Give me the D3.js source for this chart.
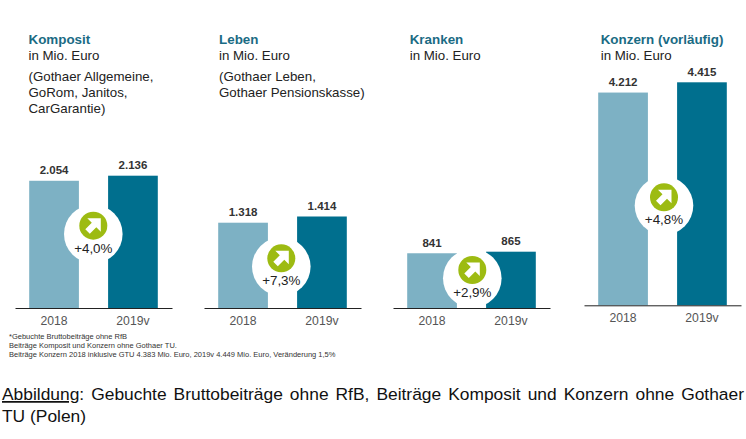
<!DOCTYPE html>
<html>
<head>
<meta charset="utf-8">
<script src="https://cdnjs.cloudflare.com/ajax/libs/d3/7.8.5/d3.min.js"></script>
<style>
html,body{margin:0;padding:0;background:#fff;}
svg{display:block;}
text{font-family:"Liberation Sans",Arial,sans-serif;}
</style>
</head>
<body>
<svg id="chart" width="746" height="439"></svg>
<script>
// data
const years = ['2018', '2019v'];
const segments = ['Komposit', 'Leben', 'Kranken', 'Konzern (vorläufig)'];
const values2018 = [2054, 1318, 841, 4212];
const values2019 = [2136, 1414, 865, 4415];
const valueLabels2018 = ['2.054', '1.318', '841', '4.212'];
const valueLabels2019 = ['2.136', '1.414', '865', '4.415'];
const changes = ['+4,0%', '+7,3%', '+2,9%', '+4,8%'];
const subLines = [
	['(Gothaer Allgemeine,', 'GoRom, Janitos,', 'CarGarantie)'],
	['(Gothaer Leben,', 'Gothaer Pensionskasse)'],
	[],
	[]
];
const footnotes = [
	'*Gebuchte Bruttobeiträge ohne RfB',
	'Beiträge Komposit und Konzern ohne Gothaer TU.',
	'Beiträge Konzern 2018 inklusive GTU 4.383 Mio. Euro, 2019v 4.449 Mio. Euro, Veränderung 1,5%'
];

// layout of the four panels, each one has its own scale
const axisLeft = [15, 204, 393, 584];
const baseY = [308, 308, 308, 305.3];
const topY = [175.7, 216.5, 251.7, 82.3];
const badgeX = [93.3, 281.3, 472.3, 664];
const badgeY = [225.7, 258.3, 270, 197.3];
const titleX = [28.5, 219, 409.7, 600.7];

const lightBar = '#7db1c4', darkBar = '#006f8e', green = '#9dbb12', titleCol = '#1a6b84';
const svg = d3.select('#chart');

segments.forEach(function(name, i){
	let g = svg.append('g');
	let x = d3.scaleBand().domain(years)
		.range([axisLeft[i], axisLeft[i] + 157])
		.paddingInner(0.37).paddingOuter(0.18);
	let y = d3.scaleLinear().domain([0, values2019[i]]).range([baseY[i], topY[i]]);
	let vals = [values2018[i], values2019[i]];
	let labels = [valueLabels2018[i], valueLabels2019[i]];

	g.selectAll('rect').data(years).enter().append('rect')
		.attr('x', d => x(d))
		.attr('width', x.bandwidth())
		.attr('y', (d, k) => y(vals[k]))
		.attr('height', (d, k) => y(0) - y(vals[k]))
		.attr('fill', (d, k) => k == 0 ? lightBar : darkBar);

	g.selectAll('.val').data(years).enter().append('text')
		.attr('class', 'val')
		.attr('x', d => x(d) + x.bandwidth() / 2)
		.attr('y', (d, k) => y(vals[k]) - 6.6)
		.attr('text-anchor', 'middle')
		.attr('font-size', 11.5).attr('font-weight', 'bold').attr('fill', '#333')
		.text((d, k) => labels[k]);

	// white disc behind the badge
	g.append('circle')
		.attr('cx', badgeX[i]).attr('cy', badgeY[i] + 8.3).attr('r', 29.3)
		.attr('fill', '#fff');

	let axis = g.append('g')
		.attr('transform', 'translate(0,' + baseY[i] + ')')
		.call(d3.axisBottom(x).tickSize(0).tickSizeOuter(0).tickPadding(8));
	axis.select('.domain').attr('stroke', '#222').attr('stroke-width', 1);
	axis.selectAll('text')
		.attr('font-size', 12.2).attr('fill', '#555')
		.style('font-family', '"Liberation Sans",Arial,sans-serif');

	// badge with arrow
	let badge = g.append('g').attr('transform', 'translate(' + badgeX[i] + ',' + badgeY[i] + ')');
	badge.append('circle').attr('r', 14).attr('fill', green);
	badge.append('path')
		.attr('d', 'M7.5,-7.5 L7.5,6 L3,1.5 L-3.5,8 L-8,3.5 L-1.5,-3 L-6,-7.5 Z')
		.attr('fill', '#fff');
	badge.append('text')
		.attr('y', 27.2).attr('text-anchor', 'middle')
		.attr('font-size', 13.4).attr('fill', '#222')
		.text(changes[i]);

	// headings
	g.append('text')
		.attr('x', titleX[i]).attr('y', 44)
		.attr('font-size', 13.4).attr('font-weight', 'bold').attr('fill', titleCol)
		.text(name);
	g.append('text')
		.attr('x', titleX[i]).attr('y', 60)
		.attr('font-size', 13.3).attr('fill', '#222')
		.text('in Mio. Euro');
	g.selectAll('.sub').data(subLines[i]).enter().append('text')
		.attr('class', 'sub')
		.attr('x', titleX[i])
		.attr('y', (d, k) => 81 + k * 16.2)
		.attr('font-size', 13.3).attr('fill', '#222')
		.text(d => d);
});

svg.selectAll('.foot').data(footnotes).enter().append('text')
	.attr('class', 'foot')
	.attr('x', 9)
	.attr('y', (d, k) => 339 + k * 9)
	.attr('font-size', 7.5).attr('fill', '#333')
	.text(d => d);

// caption, first line is justified
let cap = svg.append('text')
	.attr('x', 2).attr('y', 400)
	.attr('font-size', 17.4).attr('fill', '#111');
cap.append('tspan').attr('text-decoration', 'underline').text('Abbildung');
cap.append('tspan').text(': Gebuchte Bruttobeiträge ohne RfB, Beiträge Komposit und Konzern ohne Gothaer');
let gap = (742 - cap.node().getComputedTextLength()) / 10;
cap.attr('word-spacing', gap);

svg.append('text')
	.attr('x', 2).attr('y', 421.7)
	.attr('font-size', 17.4).attr('fill', '#111')
	.text('TU (Polen)');
</script>
</body>
</html>
